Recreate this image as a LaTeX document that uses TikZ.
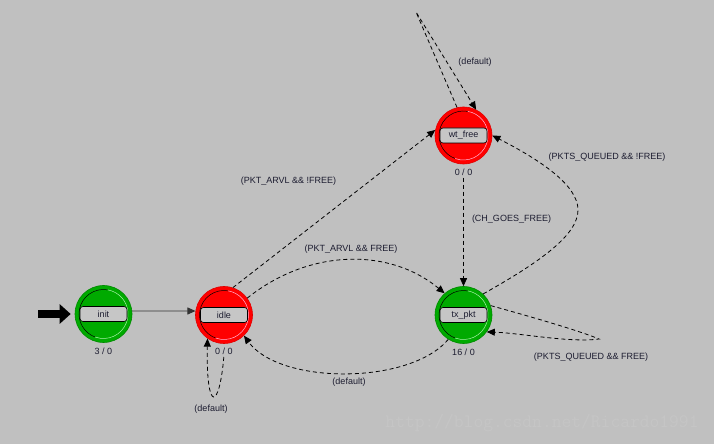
\documentclass[tikz,border=0pt]{standalone}
\usepackage{fontspec}
\setmainfont{Liberation Sans}
\usetikzlibrary{arrows.meta}
\definecolor{bg}{HTML}{C0C0C0}
\definecolor{stgreen}{HTML}{00AA00}
\definecolor{stgreendark}{HTML}{008A00}
\definecolor{stred}{HTML}{FF0000}
\definecolor{streddark}{HTML}{E00000}
\definecolor{lightgreen}{HTML}{A8F0A8}
\definecolor{lightred}{HTML}{FFB8D8}
\definecolor{boxgray}{HTML}{C6C6C6}
\definecolor{txt}{HTML}{1C1C30}
\definecolor{wmark}{HTML}{C5C5C5}
\begin{document}
\begin{tikzpicture}[x=1pt,y=1pt,
  lbl/.style={font=\fontsize{9}{10}\selectfont, text=txt, inner sep=0pt},
  stategreen/.style={circle, minimum size=57pt, inner sep=0pt, fill=stgreen, draw=stgreendark, line width=0.6pt},
  statered/.style={circle, minimum size=57pt, inner sep=0pt, fill=stred, draw=streddark, line width=0.6pt},
  lblbox/.style={draw=black, fill=boxgray, rounded corners=3pt, minimum width=47pt, minimum height=15pt, inner sep=0pt, line width=0.6pt, font=\fontsize{9}{10}\selectfont, text=txt},
  trans/.style={draw=black, line width=0.8pt, dash pattern=on 4pt off 3pt, -{Triangle[length=8pt,width=7pt]}},
  solidtrans/.style={draw=black!80, line width=0.8pt, -{Triangle[length=8pt,width=7pt]}}
]
\useasboundingbox (0,0) rectangle (714,444);
\fill[bg] (0,0) rectangle (714,444);

% watermark
\node[font=\ttfamily\fontsize{19}{19}\selectfont, text=wmark, inner sep=0pt] (wm) at (542,21) {http://blog.csdn.net/Ricardo1991};

% states
\node[stategreen] (init) at (103.5,130) {};
\node[statered] (idle) at (224,129) {};
\node[statered] (wtfree) at (463.5,308.5) {};
\node[stategreen] (txpkt) at (463.5,129) {};

% inner arcs
\foreach \n/\lc in {init/lightgreen, idle/lightred, wtfree/lightred, txpkt/lightgreen}{
  \draw[black, line width=0.5pt] (\n.center) ++(80:24.5) arc[start angle=80, end angle=250, radius=24.5];
  \draw[\lc, line width=0.5pt] (\n.center) ++(250:24.5) arc[start angle=250, end angle=440, radius=24.5];
}

% label boxes
\node[lblbox] (initbox) at (init) {init};
\node[lblbox] (idlebox) at (idle) {idle};
\node[lblbox] (wtfreebox) at (wtfree) {wt\_free};
\node[lblbox] (txpktbox) at (txpkt) {tx\_pkt};

% counters
\node[lbl] (initcnt) at (103.5,93) {3 / 0};
\node[lbl] (idlecnt) at (224,92.5) {0 / 0};
\node[lbl] (wtfreecnt) at (463.5,272) {0 / 0};
\node[lbl] (txpktcnt) at (463.5,92) {16 / 0};

% initial marker
\coordinate (entry) at (38,130);
\draw[black, line width=8.5pt, -{Triangle[length=11pt,width=19pt]}, shorten >=4pt] (entry) -- (init.west);

% coordinates for loops
\coordinate (c8) at (578,234);
\coordinate (c9) at (599,105);
\coordinate (c10) at (416,432);

% transitions
\draw[solidtrans] (init.6) -- (idle.172);
\draw[trans] (idle.72) -- (wtfree.169);
\draw[trans] (idle.36) .. controls (310,196) and (390,196) .. (txpkt.131);
\draw[trans] (txpkt.-122) .. controls (410,59) and (280,59) .. (idle.-46);
\draw[trans, shorten <=2pt] (idlecnt.south) .. controls (219,32) and (206,32) .. (idle.-125);
\draw[trans, shorten <=2pt] (wtfreecnt.south) -- (txpkt.north);
\draw[trans] (txpkt.47) .. controls (540,182) and (578,209) .. (c8) .. controls (578,259) and (540,284) .. (wtfree.0);
\draw[trans] (txpkt.19) .. controls (550,122) and (585,111) .. (c9) .. controls (570,101) and (520,111) .. (txpkt.-36);
\draw[trans] (wtfree.103) -- (c10) -- (wtfree.64);

% transition labels
\node[lbl] (l1) at (288.5,263) {(PKT\_ARVL \&\& !FREE)};
\node[lbl] (l2) at (351,195) {(PKT\_ARVL \&\& FREE)};
\node[lbl] (l3) at (349,62) {(default)};
\node[lbl] (l4) at (211,35) {(default)};
\node[lbl] (l5) at (511.5,225) {(CH\_GOES\_FREE)};
\node[lbl] (l6) at (607,287) {(PKTS\_QUEUED \&\& !FREE)};
\node[lbl] (l7) at (591,87) {(PKTS\_QUEUED \&\& FREE)};
\node[lbl] (l8) at (475,382) {(default)};
\end{tikzpicture}
\end{document}
